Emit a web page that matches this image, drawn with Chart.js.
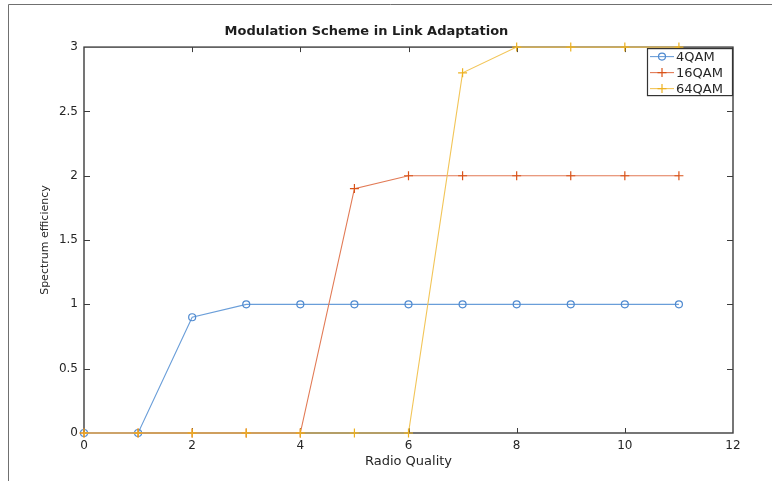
<!DOCTYPE html>
<html lang="en">
<head>
<meta charset="UTF-8">
<title>Modulation Scheme in Link Adaptation</title>
<script src="https://cdn.jsdelivr.net/npm/chart.js"></script>
<style>
  html, body { margin: 0; padding: 0; background: #fff; }
  #wrap { width: 772px; height: 481px; }
</style>
</head>
<body>
<div id="wrap"><canvas id="chart" width="772" height="481"></canvas></div>
<script>
// data
const radioQuality = [0, 1, 2, 3, 4, 5, 6, 7, 8, 9, 10, 11];
const seriesNames = ['4QAM', '16QAM', '64QAM'];
const qam4 = [0, 0, 0.9, 1, 1, 1, 1, 1, 1, 1, 1, 1];
const qam16 = [0, 0, 0, 0, 0, 1.9, 2, 2, 2, 2, 2, 2];
const qam64 = [0, 0, 0, 0, 0, 0, 0, 2.8, 3, 3, 3, 3];
const xTicks = [0, 2, 4, 6, 8, 10, 12];
const yTicks = [0, 0.5, 1, 1.5, 2, 2.5, 3];

const FONT = '"DejaVu Sans", "Liberation Sans", Arial, sans-serif';
const TEXT = '#262626';
const AXIS = '#3c3c3c';

const lineColors = ['#6a9ed9', '#e27a55', '#f2c558'];
const markColors = ['#4f8ad0', '#d95319', '#edb120'];
const markStyles = ['circle', 'cross', 'cross'];
const markSizes = [3.5, 4.5, 4.5];

const toPoints = ys => radioQuality.map((x, i) => ({ x: x, y: ys[i] }));
const allSeries = [qam4, qam16, qam64];

const datasets = allSeries.map((ys, i) => ({
  label: seriesNames[i],
  data: toPoints(ys),
  borderColor: lineColors[i],
  borderWidth: 1.1,
  pointStyle: markStyles[i],
  pointRadius: markSizes[i],
  pointBorderColor: markColors[i],
  pointBackgroundColor: 'rgba(0,0,0,0)',
  pointBorderWidth: 1.2,
  tension: 0,
  clip: false,
  order: 2 - i
}));

// matlab-ish box, inner ticks, legend and outer frame
const matlabAxes = {
  id: 'matlabAxes',
  beforeDraw(chart) {
    const ctx = chart.ctx;
    ctx.save();
    ctx.strokeStyle = '#707070';
    ctx.lineWidth = 1;
    ctx.beginPath();
    ctx.moveTo(8.5, 481);
    ctx.lineTo(8.5, 4.5);
    ctx.lineTo(772, 4.5);
    ctx.stroke();
    ctx.restore();
  },
  // axes sit under the data, like matlab's bottom layer
  beforeDatasetsDraw(chart) {
    const ctx = chart.ctx;
    const a = chart.chartArea;
    const xs = chart.scales.x, ys = chart.scales.y;
    ctx.save();
    ctx.strokeStyle = AXIS;
    ctx.lineWidth = 1.4;
    ctx.strokeRect(a.left, a.top, a.right - a.left, a.bottom - a.top);

    ctx.lineWidth = 1;
    ctx.beginPath();
    xTicks.slice(1, -1).forEach(v => {
      const px = Math.round(xs.getPixelForValue(v)) + 0.5;
      ctx.moveTo(px, a.bottom); ctx.lineTo(px, a.bottom - 5);
      ctx.moveTo(px, a.top); ctx.lineTo(px, a.top + 5);
    });
    yTicks.slice(1, -1).forEach(v => {
      const py = Math.round(ys.getPixelForValue(v)) + 0.5;
      ctx.moveTo(a.left, py); ctx.lineTo(a.left + 6, py);
      ctx.moveTo(a.right, py); ctx.lineTo(a.right - 6, py);
    });
    ctx.stroke();
    ctx.restore();
  },
  afterDraw(chart) {
    const ctx = chart.ctx;
    const a = chart.chartArea;
    ctx.save();
    // legend box, top right inside the axes
    const w = 86, h = 48;
    const x0 = a.right - w, y0 = a.top + 1;
    ctx.fillStyle = '#fff';
    ctx.fillRect(x0, y0, w, h);
    ctx.strokeStyle = '#333';
    ctx.lineWidth = 1.2;
    ctx.strokeRect(x0 + 0.5, y0 + 0.5, w - 1, h - 1);
    ctx.font = '13px ' + FONT;
    ctx.textBaseline = 'middle';
    ctx.textAlign = 'left';
    seriesNames.forEach((name, i) => {
      const cy = y0 + 8.5 + i * 16;
      ctx.strokeStyle = lineColors[i];
      ctx.lineWidth = 1.1;
      ctx.beginPath();
      ctx.moveTo(x0 + 3, cy); ctx.lineTo(x0 + 27, cy);
      ctx.stroke();
      ctx.strokeStyle = markColors[i];
      ctx.lineWidth = 1.2;
      ctx.beginPath();
      const cx = x0 + 15, r = markSizes[i];
      if (markStyles[i] === 'circle') {
        ctx.arc(cx, cy, r, 0, Math.PI * 2);
      } else {
        ctx.moveTo(cx - r, cy); ctx.lineTo(cx + r, cy);
        ctx.moveTo(cx, cy - r); ctx.lineTo(cx, cy + r);
      }
      ctx.stroke();
      ctx.fillStyle = TEXT;
      ctx.fillText(name, x0 + 29, cy + 1);
    });
    ctx.restore();
  }
};

new Chart(document.getElementById('chart'), {
  type: 'line',
  data: { datasets: datasets },
  plugins: [matlabAxes],
  options: {
    responsive: false,
    animation: false,
    devicePixelRatio: 1,
    layout: { padding: { right: 39 } },
    plugins: {
      legend: { display: false },
      tooltip: { enabled: false },
      title: {
        display: true,
        text: 'Modulation Scheme in Link Adaptation',
        color: '#1e1e1e',
        font: { family: FONT, size: 13, weight: 'bold' },
        padding: { top: 23.5, bottom: 8 }
      }
    },
    scales: {
      x: {
        type: 'linear',
        min: 0, max: 12,
        afterFit: s => { s.height = 48; },
        afterBuildTicks: s => { s.ticks = xTicks.map(v => ({ value: v })); },
        grid: { display: false, drawTicks: false },
        border: { display: false },
        ticks: { color: TEXT, padding: 6, maxRotation: 0, font: { family: FONT, size: 12 } },
        title: {
          display: true, text: 'Radio Quality', color: TEXT,
          font: { family: FONT, size: 13 }, padding: { top: 0, bottom: 12 }
        }
      },
      y: {
        min: 0, max: 3,
        afterFit: s => { s.width = 84; },
        afterBuildTicks: s => { s.ticks = yTicks.map(v => ({ value: v })); },
        grid: { display: false, drawTicks: false },
        border: { display: false },
        ticks: { color: TEXT, padding: 6, font: { family: FONT, size: 12 }, callback: v => String(v) },
        title: {
          display: true, text: 'Spectrum efficiency', color: TEXT,
          font: { family: FONT, size: 11 }, padding: { top: 39, bottom: 0 }
        }
      }
    }
  }
});
</script>
</body>
</html>
